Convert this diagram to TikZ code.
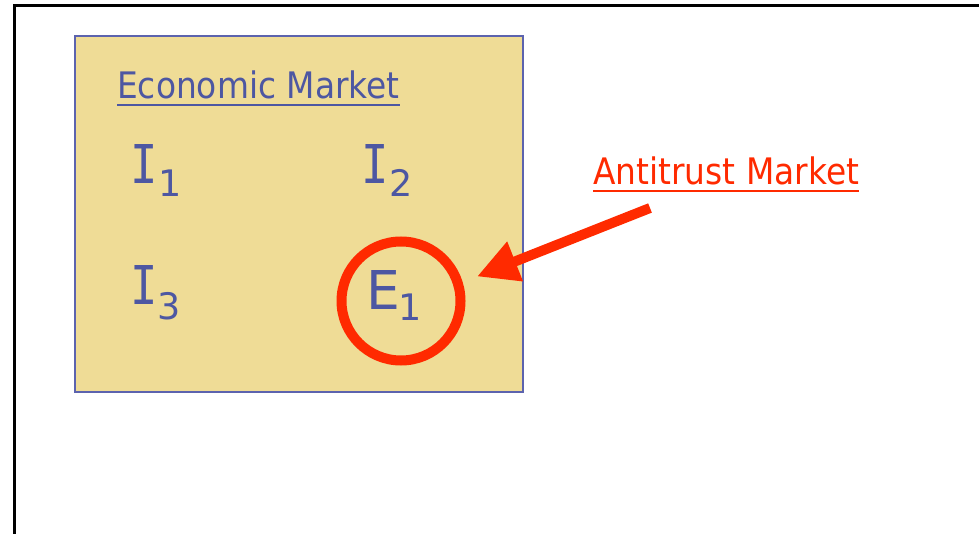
\documentclass[tikz,border=0pt]{standalone}
\usepackage{fontspec}
\setmainfont{DejaVu Sans}
\newfontfamily\labfont{DejaVu Sans}[FakeStretch=0.9]
\newfontfamily\ifont{DejaVu Sans Mono}[FakeStretch=0.85]
\usetikzlibrary{arrows.meta}
\definecolor{boxfill}{HTML}{EFDC96}
\definecolor{boxline}{HTML}{5C63AE}
\definecolor{txtblue}{HTML}{4D57A2}
\definecolor{hotred}{HTML}{FF2A00}
\newcommand\itemsub[3]{\kern#1pt\raisebox{-#2pt}{\fontsize{36.5}{40}\selectfont #3}}
\tikzset{
  lbl/.style={inner sep=0pt, anchor=base west, font=\labfont\fontsize{36.5}{40}\selectfont},
  big/.style={inner sep=0pt, anchor=base west, text=txtblue, font=\fontsize{53.5}{56}\selectfont},
}
\begin{document}
\begin{tikzpicture}[x=1pt,y=-1pt]
\useasboundingbox (0,0) rectangle (979,534);
% frame
\draw[line width=3pt] (14.5,540) -- (14.5,6) -- (985,6);
% economic market box
\node[draw=boxline, fill=boxfill, line width=2pt, minimum width=448pt, minimum height=355pt, inner sep=0pt, anchor=north west] (box) at (73.5,35.5) {};
\node[lbl, text=txtblue] (em) at (117,98.5) {Economic Market};
\draw[txtblue, line width=2.2pt] ([yshift=-6.5pt]em.base west) -- ([yshift=-6.5pt]em.base east);
% items
\node[big] (i1) at (130.5,184) {{\ifont I}\itemsub{0}{13}{1}};
\node[big] (i2) at (361.5,184) {{\ifont I}\itemsub{0}{13}{2}};
\node[big] (i3) at (130,305) {{\ifont I}\itemsub{0}{15}{3}};
\node[big] (e1) at (366.5,309) {E\itemsub{-1.8}{11.7}{1}};
% circle
\node[draw=hotred, line width=10pt, circle, minimum size=119pt, inner sep=0pt] (circ) at (401,301) {};
% antitrust label
\node[lbl, text=hotred] (am) at (593,185) {Antitrust Market};
\draw[hotred, line width=2.2pt] ([yshift=-6pt]am.base west) -- ([yshift=-6pt]am.base east);
% arrow
\coordinate (as) at (650,208);
\coordinate (ae) at (477,276.5);
\draw[hotred, line width=10pt, -{Triangle[length=41pt,width=40pt]}] (as) -- (ae);
\end{tikzpicture}
\end{document}
